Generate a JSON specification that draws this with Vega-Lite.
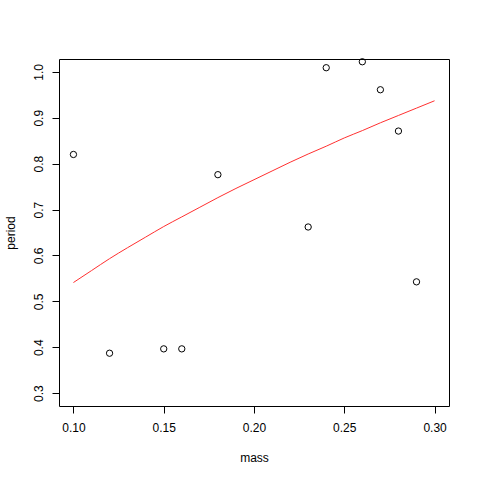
{
  "$schema": "https://vega.github.io/schema/vega-lite/v6.json",
  "width": 390,
  "height": 347,
  "autosize": {"type": "none"},
  "padding": {"left": 59, "top": 59, "right": 31, "bottom": 74},
  "background": "white",
  "config": {
    "view": {"stroke": "black", "strokeWidth": 1},
    "font": "Liberation Sans",
    "axis": {
      "grid": false,
      "domain": false,
      "tickColor": "black",
      "tickSize": 7,
      "tickWidth": 1,
      "labelColor": "black",
      "labelFontSize": 12,
      "labelFont": "Liberation Sans",
      "titleFont": "Liberation Sans",
      "titleFontSize": 12,
      "titleFontWeight": "normal",
      "titleColor": "black"
    }
  },
  "datasets": {
    "pts": [
      {"mass": 0.10, "period": 0.820},
      {"mass": 0.12, "period": 0.387},
      {"mass": 0.15, "period": 0.3965},
      {"mass": 0.16, "period": 0.3965},
      {"mass": 0.18, "period": 0.776},
      {"mass": 0.23, "period": 0.662},
      {"mass": 0.24, "period": 1.009},
      {"mass": 0.26, "period": 1.022},
      {"mass": 0.27, "period": 0.961},
      {"mass": 0.28, "period": 0.871},
      {"mass": 0.29, "period": 0.5425}
    ],
    "fit": [
      {"mass": 0.10, "period": 0.541},
      {"mass": 0.11, "period": 0.567},
      {"mass": 0.12, "period": 0.593},
      {"mass": 0.13, "period": 0.617},
      {"mass": 0.14, "period": 0.640},
      {"mass": 0.15, "period": 0.663},
      {"mass": 0.16, "period": 0.684},
      {"mass": 0.17, "period": 0.705},
      {"mass": 0.18, "period": 0.726},
      {"mass": 0.19, "period": 0.746},
      {"mass": 0.20, "period": 0.765},
      {"mass": 0.21, "period": 0.784},
      {"mass": 0.22, "period": 0.803},
      {"mass": 0.23, "period": 0.821},
      {"mass": 0.24, "period": 0.838},
      {"mass": 0.25, "period": 0.856},
      {"mass": 0.26, "period": 0.872},
      {"mass": 0.27, "period": 0.889},
      {"mass": 0.28, "period": 0.905},
      {"mass": 0.29, "period": 0.921},
      {"mass": 0.30, "period": 0.937}
    ]
  },
  "layer": [
    {
      "data": {"name": "pts"},
      "mark": {"type": "point", "shape": "circle", "filled": false, "stroke": "black", "strokeWidth": 1, "size": 40, "opacity": 1},
      "encoding": {
        "x": {
          "field": "mass", "type": "quantitative",
          "scale": {"domain": [0.092, 0.308], "nice": false, "zero": false},
          "axis": {"values": [0.10, 0.15, 0.20, 0.25, 0.30], "format": ".2f", "labelPadding": 9, "title": "mass", "titlePadding": 19}
        },
        "y": {
          "field": "period", "type": "quantitative",
          "scale": {"domain": [0.272, 1.028], "nice": false, "zero": false},
          "axis": {"values": [0.3, 0.4, 0.5, 0.6, 0.7, 0.8, 0.9, 1.0], "format": ".1f", "labelAngle": -90, "labelAlign": "center", "labelBaseline": "bottom", "labelPadding": 7, "title": "period", "titlePadding": 15}
        }
      }
    },
    {
      "data": {"name": "fit"},
      "mark": {"type": "line", "color": "#ff3030", "strokeWidth": 1, "interpolate": "monotone", "clip": true},
      "encoding": {
        "x": {"field": "mass", "type": "quantitative"},
        "y": {"field": "period", "type": "quantitative"}
      }
    }
  ]
}
